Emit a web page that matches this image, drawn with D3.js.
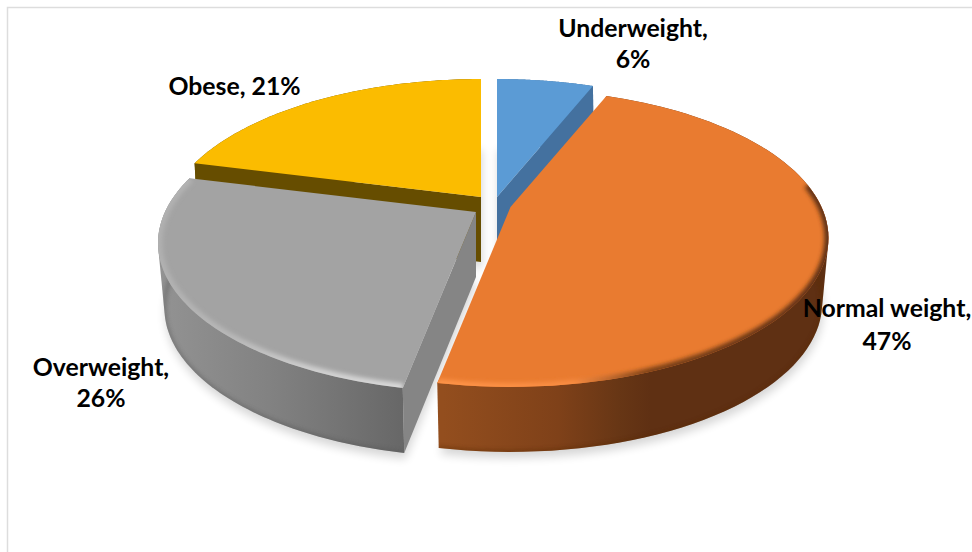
<!DOCTYPE html>
<html><head><meta charset="utf-8">
<style>html,body{margin:0;padding:0;background:#fff}svg{display:block}
text{font-family:Lato,"Open Sans",sans-serif;font-weight:700;font-size:24.8px;fill:#000;text-anchor:middle}</style>
<script src="https://cdn.jsdelivr.net/npm/d3@7/dist/d3.min.js"></script>
</head><body><svg id="c" width="972" height="552"></svg>
<script>
const categories = ["Underweight", "Normal weight", "Overweight", "Obese"];
const shares = [6, 47, 26, 21];
const topColors = ["#5B9BD5", "#E97B30", "#A3A3A3", "#FBBC00"];
const cutColors = ["#44719F", "#7a3f15", "#858585", "#664D00"];
const labelLines = [["Underweight,", "6%"], ["Normal weight,", "47%"], ["Overweight,", "26%"], ["Obese, 21%"]];
const labelAnchors = [[633, 37, 68], [887, 317, 350], [101, 376, 407], [234.5, 95]];
const apexes = [[497, 197], [510.5, 207], [476, 212], [481, 197]];

const RX = 311, RY = 142.5, K = .208, DEPTH = 65;
const svg = d3.select("#c"), defs = svg.append("defs");
const pie = d3.pie().sort(null).startAngle(0).endAngle(2 * Math.PI);
const arcs = pie(shares);
const project = (apex, a, lift) => {
  const z = Math.cos(a), s = Math.sin(a), w = 1 + K * z;
  const shrink = lift ? (z < 0 ? .98 : .98 + .03 * z) : 1;
  return [apex[0] + shrink * RX * s / w, apex[1] - RY * z / w + (lift ? DEPTH : 0)];
};
const line = d3.line();
const sample = (p, apex, lift, from = 0) => d3.range(0, 81).map(i => i / 80)
  .filter(t => p.startAngle + (p.endAngle - p.startAngle) * t >= from)
  .map(t => project(apex, p.startAngle + (p.endAngle - p.startAngle) * t, lift));
const low = apex => [apex[0], apex[1] + DEPTH];
const topPath = (p, ap) => line([ap, ...sample(p, ap, false)]) + "Z";
const bottomPath = (p, ap) => line([low(ap), ...sample(p, ap, true)]) + "Z";
const wallPath = (p, ap) => line(d3.polygonHull([...sample(p, ap, false), ...sample(p, ap, true)])) + "Z";
const cutPath = (ap, a) => line([ap, project(ap, a, false), project(ap, a, true), low(ap)]) + "Z";

const grad = (id, stops, x1, x2) => {
  const g = defs.append("linearGradient").attr("id", id).attr("gradientUnits", "userSpaceOnUse")
    .attr("x1", x1).attr("x2", x2).attr("y1", 0).attr("y2", 0);
  stops.forEach(([o, c]) => g.append("stop").attr("offset", o).attr("stop-color", c));
};
grad("wall0", [[0, "#44719F"], [1, "#44719F"]], 490, 600);
grad("wall3", [[0, "#664D00"], [1, "#664D00"]], 190, 480);
grad("wall1", [[0, "#934E1E"], [.3, "#7F4119"], [.46, "#673615"], [.54, "#5F3013"], [1, "#5F3013"]], 443, 827);
grad("wall2", [[0, "#939393"], [.45, "#828282"], [1, "#676767"]], 157, 405);
grad("rim1", [[0, "#FF9448"], [.34, "#F88C42"], [.44, "#B8652C"], [.54, "#7A4016"], [1, "#5F3012"]], 443, 827);
grad("rim2", [[0, "#B0B0B0"], [.3, "#B8B8B8"], [.6, "#CECECE"], [1, "#DADADA"]], 157, 405);
const blur = (id, sd) => defs.append("filter").attr("id", id)
  .attr("x", "-10%").attr("y", "-20%").attr("width", "120%").attr("height", "140%")
  .append("feGaussianBlur").attr("stdDeviation", sd);
blur("soft", 2); blur("shade", 5);

// frame
svg.append("path").attr("d", line([[7.5, 552], [7.5, 7.5], [972, 7.5]]))
  .attr("fill", "none").attr("stroke", "#DDDDDD").attr("stroke-width", 1.5);

// ground shadow
const shadow = svg.append("g").attr("filter", "url(#shade)").attr("opacity", .16).attr("transform", "translate(1,6)");
arcs.forEach((p, i) => shadow.append("path").attr("d", bottomPath(p, apexes[i])).attr("fill", "#000"));

// slices, back to front
[3, 0, 2, 1].forEach(i => {
  const p = arcs[i], ap = apexes[i], g = svg.append("g");
  const clipT = "clipT" + i, clipW = "clipW" + i;
  defs.append("clipPath").attr("id", clipT).append("path").attr("d", topPath(p, ap));
  defs.append("clipPath").attr("id", clipW).append("path").attr("d", wallPath(p, ap));
  g.append("path").attr("d", wallPath(p, ap)).attr("fill", `url(#wall${i})`);
  if (i === 1 || i === 2) {
    g.append("g").attr("clip-path", `url(#${clipW})`).append("path")
      .attr("d", line(sample(p, ap, true))).attr("fill", "none")
      .attr("stroke", i === 1 ? "#5a2a0c" : "#555").attr("stroke-width", 3)
      .attr("opacity", .6).attr("filter", "url(#soft)");
  }
  if (i === 0 || i === 3 || i === 2) {
    const a = i === 0 ? p.endAngle : p.startAngle;
    g.append("path").attr("d", cutPath(ap, a)).attr("fill", cutColors[i]);
  }
  g.append("path").attr("d", topPath(p, ap)).attr("fill", topColors[i]);
  if (i === 1 || i === 2) {
    g.append("g").attr("clip-path", `url(#${clipT})`).append("path")
      .attr("d", line(sample(p, ap, false, i === 1 ? 1.4 : 0))).attr("fill", "none")
      .attr("stroke", `url(#rim${i})`).attr("stroke-width", i === 1 ? 8 : 9)
      .attr("filter", "url(#soft)");
  }
});

// labels
svg.append("g").selectAll("text").data(categories).join("text")
  .each(function (d, i) {
    const t = d3.select(this);
    labelLines[i].forEach((s, j) => t.append("tspan")
      .attr("x", labelAnchors[i][0]).attr("y", labelAnchors[i][j + 1]).text(s));
  });
</script></body></html>
